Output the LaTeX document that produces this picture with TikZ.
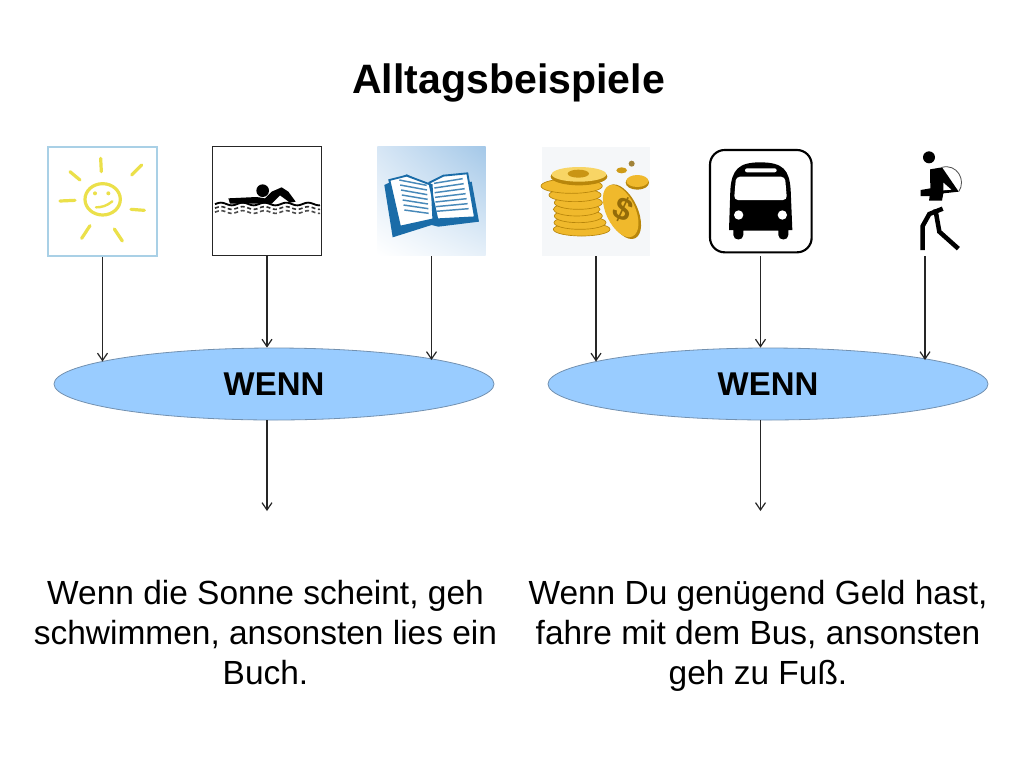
\documentclass[tikz,border=0pt]{standalone}
\usepackage{fontspec}
\setmainfont{Liberation Sans}
\usetikzlibrary{shapes.geometric,arrows.meta,shadings}
\definecolor{ellfill}{HTML}{99CCFF}
\definecolor{elldraw}{HTML}{7391B0}
\definecolor{sunblue}{HTML}{A9D0E6}
\definecolor{sunyel}{HTML}{EBE04A}
\definecolor{bookblue}{HTML}{1A6CA8}
\definecolor{bookUL}{HTML}{D6E6F5}
\definecolor{bookUR}{HTML}{A4C8E8}
\definecolor{bookLR}{HTML}{E6F0F9}
\definecolor{gold}{HTML}{F0B92C}
\definecolor{golddark}{HTML}{B8860B}
\definecolor{goldlight}{HTML}{F8D565}
\definecolor{coinbg}{HTML}{F5F7F9}
\tikzset{
  iconbox/.style={rectangle,minimum width=81.75pt,minimum height=81.75pt,inner sep=0pt},
  wenn/.style={ellipse,draw=elldraw,line width=.6pt,fill=ellfill,minimum width=330pt,minimum height=54pt,inner sep=0pt,font=\fontsize{24.7}{28}\selectfont\bfseries},
  arr/.style={draw=black!85,line width=1pt,-{Straight Barb[length=5.5pt,width=7.5pt,line width=.9pt]}},
  captext/.style={align=center,font=\fontsize{25.1}{30}\selectfont,inner sep=0pt},
  sunray/.style={draw=sunyel,line width=2.4pt,line cap=round},
  zoomA/.style={shift={(30,130)},x=.25pt,y=-.25pt},
  zoomB/.style={shift={(530,130)},x=.25pt,y=-.25pt}
}
\begin{document}
\begin{tikzpicture}[x=.75pt,y=-.75pt]
\useasboundingbox[fill=white] (0,0) rectangle (1024,768);
\node[font=\fontsize{30.8}{36}\selectfont\bfseries,inner sep=0pt] (title) at (508.5,83) {Alltagsbeispiele};

% icon frames
\node[iconbox,draw=sunblue,line width=2.2pt] (sun) at (102.5,201.5) {};
\node[iconbox,draw=black!85,line width=1pt] (swim) at (267,201) {};
\node[iconbox] (book) at (431.5,201.5) {};
\node[iconbox] (coins) at (596,201.5) {};
\node[iconbox] (bus) at (760.5,201.5) {};
\node[iconbox] (walker) at (925,201.5) {};

% sun
\begin{scope}[zoomA]
\draw[sunray] (212,85)--(214,125);
\draw[sunray] (120,125)--(150,150);
\draw[sunray] (305,135)--(335,105);
\draw[sunray] (90,213)--(135,211);
\draw[sunray] (303,238)--(343,241);
\draw[sunray] (155,325)--(180,287);
\draw[sunray] (253,297)--(277,333);
\draw[sunray] (218,208) ellipse (53 and 47);
\draw[draw=sunyel,line width=1.8pt,line cap=round] (198,232) .. controls (215,232) and (230,228) .. (247,214);
\fill[sunyel] (195,190) circle (6) (235,190) circle (6);
\end{scope}

% swimmer
\begin{scope}[zoomA]
\fill[black] (698,182) circle (19);
\fill[black] (595,205) -- (680,201) -- (705,205) -- (725,185) -- (755,172) -- (775,185) -- (797,215) -- (780,218) -- (750,196) -- (725,221) -- (600,221) -- cycle;
\draw[black,line width=1.4pt,domain=555:870,samples=90,smooth] plot (\x,{222+4*sin(\x*5.5)});
\draw[black!80,line width=1.2pt,densely dashed,domain=555:870,samples=90,smooth] plot (\x,{234+4*sin(\x*5.5)});
\draw[black!70,line width=1.2pt,densely dashed,domain=555:870,samples=90,smooth] plot (\x,{246+4*sin(\x*5.5)});
\end{scope}

% book
\begin{scope}[zoomA]
\shade[upper left=bookUL,upper right=bookUR,lower left=white,lower right=bookLR] (1042,50) rectangle (1367,375);
\fill[bookblue] (1063,165) -- (1088,322) -- (1205,285) -- (1225,290) -- (1347,275) -- (1325,155) -- (1210,170) -- (1130,133) -- cycle;
\fill[white] (1078,150) -- (1130,137) -- (1205,165) -- (1210,268) -- (1110,290) -- cycle;
\fill[white] (1198,158) -- (1240,137) -- (1312,130) -- (1335,262) -- (1222,268) -- cycle;
\draw[bookblue,line width=1.4pt] (1078,150) -- (1130,137) -- (1205,165) -- (1210,268) -- (1110,290) -- cycle;
\draw[bookblue,line width=1.4pt] (1198,158) -- (1240,137) -- (1312,130) -- (1335,262) -- (1222,268) -- cycle;
\foreach \k in {0,...,6}{
  \draw[bookblue!80,line width=1.1pt] ({1108+\k*2.5},{150+\k*15}) -- ({1190+\k*1},{166+\k*14});
  \draw[bookblue!80,line width=1.1pt] ({1212+\k*1},{160+\k*14}) -- ({1298+\k*3},{146+\k*15});
}
\end{scope}

% coins
\begin{scope}[zoomB]
\fill[coinbg] (35,50) rectangle (360,377);
\fill[gold,draw=golddark,line width=.5pt] (155,298) ellipse (85 and 20);
\fill[gold,draw=golddark,line width=.5pt] (150,278) ellipse (78 and 20);
\fill[gold,draw=golddark,line width=.5pt] (145,258) ellipse (72 and 20);
\fill[gold,draw=golddark,line width=.5pt] (140,238) ellipse (70 and 20);
\fill[gold,draw=golddark,line width=.5pt] (145,218) ellipse (72 and 20);
\fill[gold,draw=golddark,line width=.5pt] (135,195) ellipse (78 and 20);
\fill[gold,draw=golddark,line width=.5pt] (125,168) ellipse (92 and 22);
\fill[golddark] (147,140) ellipse (85 and 26);
\fill[goldlight] (147,133) ellipse (82 and 22);
\fill[golddark!70!gold] (145,131) ellipse (32 and 12);
\fill[golddark,rotate around={25:(278,245)}] (278,245) ellipse (45 and 88);
\fill[gold,rotate around={25:(272,243)}] (272,243) ellipse (44 and 84);
\node[rotate=-25,text=golddark!80!black,font=\fontsize{24}{24}\selectfont\bfseries,inner sep=0pt] (dollar) at (278,240) {\$};
\fill[golddark] (322,158) ellipse (35 and 21);
\fill[gold] (322,153) ellipse (33 and 18);
\fill[golddark!60!gold] (275,121) ellipse (16 and 9);
\fill[golddark!60!gray] (305,101) circle (9);
\end{scope}

% bus
\begin{scope}[zoomB]
\draw[black,line width=1.6pt,fill=white,rounded corners=11pt] (540,60) rectangle (845,367);
\fill[black] (597,300) -- (601,180) .. controls (605,120) and (625,97) .. (690,97) .. controls (760,97) and (778,120) .. (782,180) -- (787,300) -- (775,300) -- (775,315) .. controls (775,333) and (745,333) .. (745,315) -- (745,302) -- (640,302) -- (640,315) .. controls (640,333) and (610,333) .. (610,315) -- (610,300) -- cycle;
\fill[white,rounded corners=3pt] (612,210) -- (618,140) -- (765,140) -- (771,210) -- cycle;
\fill[white,rounded corners=1.5pt] (645,115) rectangle (740,127);
\fill[white] (626,255) circle (14) (757,255) circle (14);
\end{scope}

% walker
\begin{scope}[zoomB]
\fill[black] (1197,82) circle (18);
\fill[black] (1200,118) -- (1236,112) -- (1286,185) -- (1240,190) -- (1236,212) -- (1197,212) -- (1199,198) -- (1172,198) -- (1172,180) -- (1201,175) -- cycle;
\fill[white] (1240,158) -- (1264,179) -- (1240,181) -- cycle;
\draw[black!70,line width=.6pt] (1236,112) .. controls (1280,100) and (1310,150) .. (1286,185);
\draw[black,line width=3.4pt,line join=miter] (1238,236) -- (1198,252) -- (1178,288) -- (1178,360);
\draw[black,line width=3.4pt,line join=miter] (1216,238) -- (1228,305) -- (1285,356);
\end{scope}

% ellipses
\node[wenn] (e1) at (274,384) {WENN};
\node[wenn] (e2) at (768,384) {WENN};

% free ends
\coordinate (c1) at (102.5,361.5);
\coordinate (c3) at (431.5,360);
\coordinate (c4) at (596,361.5);
\coordinate (c6) at (925,360);
\coordinate (o1) at (267,511);
\coordinate (o2) at (760.5,511);

\draw[arr] (sun.south) -- (c1);
\draw[arr] (swim.south) -- (swim.south |- e1.north);
\draw[arr] (book.south) -- (c3);
\draw[arr] (coins.south) -- (c4);
\draw[arr] (bus.south) -- (bus.south |- e2.north);
\draw[arr] (walker.south) -- (c6);
\draw[arr] (o1 |- e1.south) -- (o1);
\draw[arr] (o2 |- e2.south) -- (o2);

\node[captext] (t1) at (265.5,633) {Wenn die Sonne scheint, geh\\schwimmen, ansonsten lies ein\\Buch.};
\node[captext] (t2) at (758,636) {Wenn Du genügend Geld hast,\\fahre mit dem Bus, ansonsten\\geh zu Fuß.};
\end{tikzpicture}
\end{document}
